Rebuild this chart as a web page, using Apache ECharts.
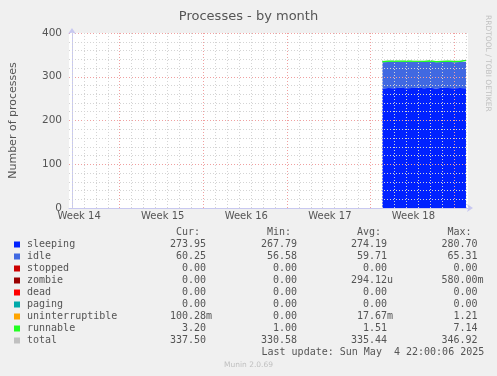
<!DOCTYPE html>
<html>
<head>
<meta charset="utf-8">
<script src="https://cdn.jsdelivr.net/npm/echarts@6/dist/echarts.min.js"></script>
<style>
  html, body { margin: 0; padding: 0; background: #f0f0f0; }
  #chart { width: 497px; height: 376px; }
</style>
</head>
<body>
<div id="chart"></div>
<script>
// sample times, in days since Apr 2 2025 00:00
const sampleDay = [26, 26.5, 27, 27.5, 28, 28.5, 29, 29.5, 30, 30.5, 31, 31.5, 32, 32.5, 33];

const sleeping = [273.2, 274.5, 273.8, 274.9, 273.6, 274.2, 275.1, 273.9, 274.6, 273.4, 274.8, 274.1, 273.7, 274.4, 273.95];
const idle = [60.1, 59.4, 60.3, 59.2, 60.5, 59.8, 58.9, 59.6, 60.2, 59.5, 59.1, 60.0, 59.7, 59.3, 60.25];
const stopped = [0, 0, 0, 0, 0, 0, 0, 0, 0, 0, 0, 0, 0, 0, 0];
const zombie = [0, 0, 0, 0, 0, 0, 0, 0, 0, 0, 0, 0, 0, 0, 0];
const dead = [0, 0, 0, 0, 0, 0, 0, 0, 0, 0, 0, 0, 0, 0, 0];
const paging = [0, 0, 0, 0, 0, 0, 0, 0, 0, 0, 0, 0, 0, 0, 0];
const uninterruptible = [0.02, 0.01, 0.03, 0.01, 0.02, 0.02, 0.01, 0.03, 0.02, 0.01, 0.02, 0.01, 0.02, 0.02, 0.1];
const runnable = [1.4, 1.6, 1.5, 1.4, 1.7, 1.5, 1.4, 1.6, 1.5, 1.5, 1.4, 1.6, 1.5, 1.5, 3.2];
const total = [334.7, 335.5, 335.6, 335.5, 335.8, 335.5, 335.4, 335.1, 336.3, 334.4, 335.3, 335.7, 334.9, 335.2, 337.5];

const weekLabels = ['Week 14', 'Week 15', 'Week 16', 'Week 17', 'Week 18'];
const weekLabelDay = [0.6, 7.6, 14.6, 21.6, 28.6];
const weekStartDay = [4, 11, 18, 25, 32];

const legendNames = ['sleeping', 'idle', 'stopped', 'zombie', 'dead', 'paging', 'uninterruptible', 'runnable', 'total'];
const legendColors = ['#0022ff', '#4169e1', '#cc0000', '#990000', '#ff0000', '#00aaaa', '#ffa500', '#22ff22', '#c0c0c0'];
const curVals = ['273.95', '60.25', '0.00', '0.00', '0.00', '0.00', '100.28m', '3.20', '337.50'];
const minVals = ['267.79', '56.58', '0.00', '0.00', '0.00', '0.00', '0.00', '1.00', '330.58'];
const avgVals = ['274.19', '59.71', '0.00', '294.12u', '0.00', '0.00', '17.67m', '1.51', '335.44'];
const maxVals = ['280.70', '65.31', '0.00', '580.00m', '0.00', '0.00', '1.21', '7.14', '346.92'];
const lastUpdate = 'Last update: Sun May  4 22:00:06 2025';

const stackSeries = [sleeping, idle, stopped, zombie, dead, paging, uninterruptible, runnable];

const chart = echarts.init(document.getElementById('chart'));

// rrdtool style: 6 digits right aligned, then unit letter
function fmt(s) {
  const m = s.match(/^([0-9.]+)([a-zA-Z]?)$/);
  return m[1].padStart(6, ' ') + (m[2] || '');
}

const mono = 'DejaVu Sans Mono';
const graphics = [];
const rowY0 = 244.5;
const cols = [170, 261, 351, 441.5];
['Cur:', 'Min:', 'Avg:', 'Max:'].forEach((h, i) => {
  graphics.push({ type: 'text', x: cols[i] + 6, y: 232.5,
    style: { text: h, fill: '#555', fontFamily: mono, fontSize: 10, verticalAlign: 'middle' } });
});
legendNames.forEach((name, i) => {
  const y = rowY0 + i * 12;
  graphics.push({ type: 'rect', shape: { x: 14, y: y - 3, width: 6, height: 6 },
    style: { fill: legendColors[i] } });
  graphics.push({ type: 'text', x: 27, y: y,
    style: { text: name, fill: '#555', fontFamily: mono, fontSize: 10, verticalAlign: 'middle' } });
  [curVals, minVals, avgVals, maxVals].forEach((arr, c) => {
    graphics.push({ type: 'text', x: cols[c], y: y,
      style: { text: fmt(arr[i]), fill: '#555', fontFamily: mono, fontSize: 10, verticalAlign: 'middle' } });
  });
});
graphics.push({ type: 'text', x: 261.5, y: rowY0 + 9 * 12,
  style: { text: lastUpdate, fill: '#555', fontFamily: mono, fontSize: 10, verticalAlign: 'middle' } });
graphics.push({ type: 'text', x: 248.5, y: 365,
  style: { text: 'Munin 2.0.69', fill: '#c0c0c0', fontFamily: 'DejaVu Sans', fontSize: 7.5, align: 'center', verticalAlign: 'middle' } });
graphics.push({ type: 'text', x: 488, y: 15, rotation: -Math.PI / 2,
  style: { text: 'RRDTOOL / TOBI OETIKER', fill: '#c0c0c0', fontFamily: 'DejaVu Sans', fontSize: 7.5, align: 'left', verticalAlign: 'middle' } });

// vertical grid: one dotted line per day, red at week starts
const vLines = [];
for (let d = 0; d <= 33; d++) {
  const major = weekStartDay.indexOf(d) >= 0;
  vLines.push({
    xAxis: d,
    lineStyle: { color: major ? '#f0a0a0' : '#d4d4d4', type: [1, 2], width: 1 }
  });
}

// data rows are [value, day] so the stack runs on the value column
const series = stackSeries.map((vals, i) => ({
  name: legendNames[i],
  type: 'line',
  stack: 'procs',
  z: 2,
  showSymbol: false,
  symbol: 'none',
  encode: { x: 1, y: 0 },
  data: sampleDay.map((d, j) => [vals[j], d]),
  lineStyle: { width: legendNames[i] === 'runnable' ? 1.2 : 0, color: legendColors[i] },
  itemStyle: { color: legendColors[i] },
  areaStyle: { color: legendColors[i], opacity: 1 }
}));

series.push({
  name: 'total',
  type: 'line',
  z: 1,
  showSymbol: false,
  symbol: 'none',
  encode: { x: 1, y: 0 },
  data: sampleDay.map((d, j) => [total[j], d]),
  lineStyle: { width: 1, color: '#c0c0c0' }
});

series.push({
  name: 'grid',
  type: 'line',
  z: 5,
  data: [],
  markLine: {
    silent: true,
    symbol: ['none', 'none'],
    label: { show: false },
    animation: false,
    data: vLines
  }
});

const option = {
  backgroundColor: '#f0f0f0',
  animation: false,
  textStyle: { fontFamily: 'DejaVu Sans' },
  title: {
    text: 'Processes - by month',
    left: 'center',
    top: 5,
    textStyle: { fontSize: 13, fontWeight: 'normal', color: '#555', fontFamily: 'DejaVu Sans' }
  },
  grid: {
    left: 67, top: 33, right: 29, bottom: 168,
    show: true, backgroundColor: '#ffffff', borderWidth: 0
  },
  xAxis: {
    type: 'value',
    min: -0.25,
    max: 33.17,
    z: 6,
    axisLine: {
      show: true,
      lineStyle: { color: '#c8c8f0', width: 1 },
      symbol: ['none', 'arrow'],
      symbolSize: [6, 6],
      symbolOffset: [0, 5]
    },
    axisTick: { show: false },
    splitLine: { show: false },
    axisLabel: {
      customValues: weekLabelDay,
      formatter: (v) => {
        const i = weekLabelDay.indexOf(v);
        return i >= 0 ? weekLabels[i] : '';
      },
      color: '#555',
      fontSize: 10,
      margin: 3
    }
  },
  yAxis: {
    type: 'value',
    min: 0,
    max: 400,
    interval: 100,
    z: 4,
    name: 'Number of processes',
    nameLocation: 'middle',
    nameGap: 50,
    nameTextStyle: { color: '#555', fontSize: 11 },
    axisLine: {
      show: true,
      lineStyle: { color: '#c8c8f0', width: 1 },
      symbol: ['none', 'arrow'],
      symbolSize: [6, 6],
      symbolOffset: [0, 5]
    },
    axisTick: { show: false },
    axisLabel: { color: '#555', fontSize: 10.5, margin: 7 },
    splitLine: { show: true, lineStyle: { color: '#f0a0a0', type: [1, 2] } },
    minorTick: { show: false, splitNumber: 5 },
    minorSplitLine: { show: true, lineStyle: { color: '#d4d4d4', type: [1, 2] } }
  },
  graphic: graphics,
  series: series
};

chart.setOption(option);
</script>
</body>
</html>
